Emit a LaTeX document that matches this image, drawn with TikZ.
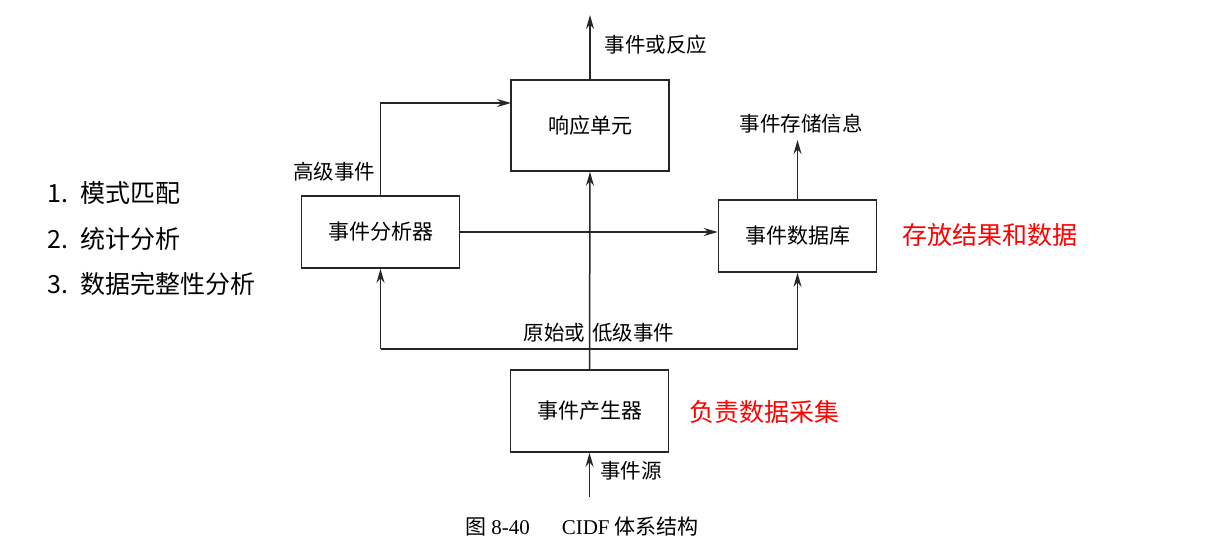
\documentclass[tikz,border=0pt]{standalone}
\usepackage{fontspec}
\usepackage{tikz}
\usetikzlibrary{arrows.meta}
\setmainfont{Liberation Serif}
\newfontfamily\cjk{Noto Sans CJK SC}

\begin{document}
\begin{tikzpicture}[x=1pt,y=-1pt,
  box/.style={draw=black!85,line width=1.6pt,minimum width=158pt,inner sep=0pt,font=\cjk\fontsize{21}{21}\selectfont},
  flow/.style={draw=black!85,-{Stealth[length=14pt,width=8pt]},line width=1.5pt},
  line/.style={draw=black!85,line width=1.5pt},
  lbl/.style={font=\cjk\fontsize{20.5}{20.5}\selectfont},
  note/.style={text=red,font=\cjk\fontsize{25}{25}\selectfont},
  item/.style={anchor=west,font=\cjk\fontsize{25}{25}\selectfont}]
\useasboundingbox (0,0) rectangle (1210,558);
%方框
\node[box,minimum height=91pt] (resp) at (590,125.5) {响应单元};
\node[box,minimum height=72pt] (ana) at (380.5,232) {事件分析器};
\node[box,minimum height=72pt] (db) at (797.5,236) {事件数据库};
\node[box,minimum height=82pt] (gen) at (589.5,411) {事件产生器};
%端点
\coordinate (respout) at (590,15);
\coordinate (dbout) at (797.5,140);
\coordinate (hiin) at (511,103);
\coordinate (busL) at (380.5,349);
\coordinate (busR) at (797.5,349);
\coordinate (src) at (589.5,497);
%箭头
\draw[flow] (resp.north) -- (respout);
\draw[flow] (ana.north) |- (hiin);
\draw[flow] (gen.north) -- (resp.south);
\draw[flow] (ana.east) -- (ana.east -| db.west);
\draw[line] (busL) -- (busR);
\draw[flow] (busL) -- (ana.south);
\draw[flow] (busR) -- (db.south);
\draw[flow] (db.north) -- (dbout);
\draw[flow] (src) -- (gen.south);
%文字
\node[lbl] (t1) at (656,45) {事件或反应};
\node[lbl] (t2) at (801,124) {事件存储信息};
\node[lbl] (t3) at (334,172) {高级事件};
\node[lbl] (t4) at (599,333) {原始或\hspace{7pt}低级事件};
\node[lbl] (t5) at (631,471) {事件源};
\node (cap) at (582,527) {\fontsize{21}{21}\selectfont{\cjk 图} 8-40\hspace{32pt}CIDF {\cjk 体系结构}};
%批注
\node[note] (n1) at (990,235) {存放结果和数据};
\node[note] (n2) at (764,412) {负责数据采集};
\node[item] (i1) at (44,193) {1.\hspace{12pt}模式匹配};
\node[item] (i2) at (44,239) {2.\hspace{12pt}统计分析};
\node[item] (i3) at (44,284) {3.\hspace{12pt}数据完整性分析};
\end{tikzpicture}
\end{document}
